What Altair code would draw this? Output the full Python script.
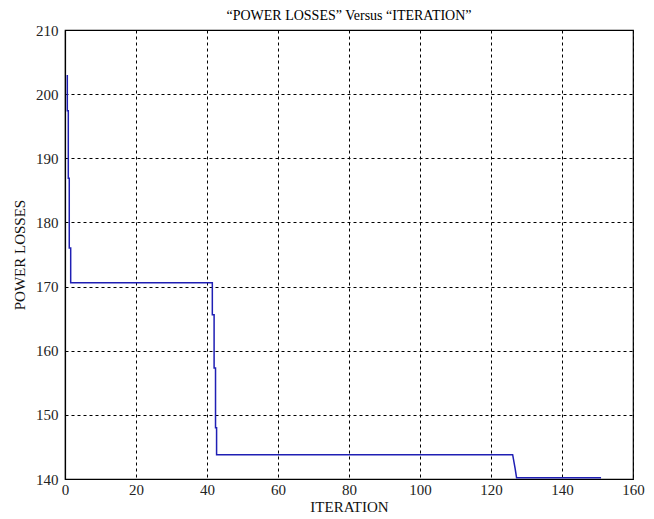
import altair as alt
import pandas as pd

# Values
iteration = [0.65, 0.65, 0.93, 0.93, 1.2, 1.2, 1.6, 1.6, 41.5, 41.5, 42.0, 42.0,
             42.4, 42.4, 42.7, 42.7, 126.1, 126.8, 127.2, 151.0]
power_losses = [203.0, 197.4, 197.4, 186.9, 186.9, 176.0, 176.0, 170.6, 170.6, 165.6,
                165.6, 157.3, 157.3, 148.0, 148.0, 143.8, 143.8, 141.6, 140.2, 140.2]
x_ticks = [0, 20, 40, 60, 80, 100, 120, 140, 160]
y_ticks = [140, 150, 160, 170, 180, 190, 200, 210]

df = pd.DataFrame({"idx": list(range(len(iteration))),
                   "ITERATION": iteration, "POWER LOSSES": power_losses})

FONT = "Liberation Serif"
common = dict(grid=True, gridDash=[3, 3], gridColor="black", gridWidth=1, gridOpacity=1,
              tickSize=0, domainColor="black", domainWidth=1.2, labelFlush=False,
              labelFont=FONT, labelFontSize=15, labelColor="#222222",
              titleFont=FONT, titleFontSize=15, titleFontWeight="normal",
              titleColor="#111111")

line = alt.Chart(df).mark_line(color="#1f1fb4", strokeWidth=1.5, clip=True).encode(
    x=alt.X("ITERATION:Q",
            scale=alt.Scale(domain=[0, 160], nice=False, zero=False),
            axis=alt.Axis(values=x_ticks, title="ITERATION", labelPadding=3,
                          titlePadding=2, **common)),
    y=alt.Y("POWER LOSSES:Q",
            scale=alt.Scale(domain=[140, 210], nice=False, zero=False),
            axis=alt.Axis(values=y_ticks, title="POWER LOSSES", labelPadding=7,
                          titlePadding=8, **common)),
    order="idx:Q",
)

chart = line.properties(
    width=568, height=449,
    background="white",
    title=alt.TitleParams("\u201cPOWER LOSSES\u201d Versus \u201cITERATION\u201d",
                          font=FONT, fontSize=14, fontWeight="normal", color="black",
                          offset=0, anchor="middle"),
    padding={"left": 65, "top": 30, "right": 21, "bottom": 40},
    autosize=alt.AutoSizeParams(type="none"),
).configure_view(
    stroke="black", strokeWidth=1.2
)

chart.save("out.html", embed_options={"renderer": "svg", "actions": False})
